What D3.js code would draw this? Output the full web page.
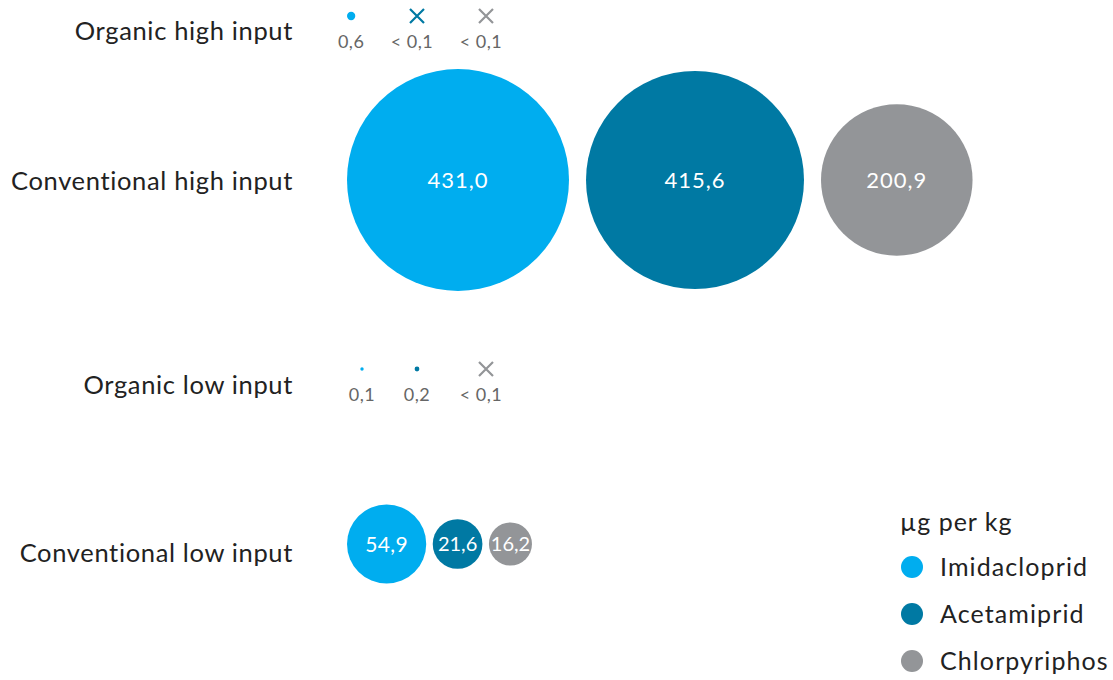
<!DOCTYPE html>
<html>
<head>
<meta charset="utf-8">
<script src="https://cdn.jsdelivr.net/npm/d3@7"></script>
<style>
  body { margin: 0; background: #fff; }
  text { font-family: Lato, "Open Sans", sans-serif; }
</style>
</head>
<body>
<div id="chart"></div>
<script>
// rows, top to bottom
var categories = ["Organic high input", "Conventional high input", "Organic low input", "Conventional low input"];
var substances = ["Imidacloprid", "Acetamiprid", "Chlorpyriphos"];
// µg per kg, null = below detection (<0,1)
var imidacloprid = [0.6, 431.0, 0.1, 54.9];
var acetamiprid = [null, 415.6, 0.2, 21.6];
var chlorpyriphos = [null, 200.9, null, 16.2];
var colors = ["#00adef", "#0079a3", "#939598"];

var width = 1113, height = 680;
var svg = d3.select("#chart").append("svg")
    .attr("width", width)
    .attr("height", height);

var series = [imidacloprid, acetamiprid, chlorpyriphos];

// bubble area ~ value
var r = d3.scaleSqrt().domain([0, 431]).range([0, 111]);
var rowY = { "Organic high input": 16, "Conventional high input": 180, "Organic low input": 369, "Conventional low input": 544 };
var labelY = { "Organic high input": 40, "Conventional high input": 190, "Organic low input": 394, "Conventional low input": 562 };

var fmt = function (v) { return v.toFixed(1).replace(".", ","); };

// row labels
svg.selectAll("text.row")
  .data(categories)
  .enter().append("text")
    .attr("class", "row")
    .attr("x", 293)
    .attr("y", function (d) { return labelY[d]; })
    .attr("text-anchor", "end")
    .style("font-size", "25.5px")
    .style("letter-spacing", "0.65px")
    .style("fill", "#222")
    .text(function (d) { return d; });

// build the marks per row
var marks = [];
categories.forEach(function (c, i) {
  var big = r(d3.max(series, function (s) { return s[i] || 0; })) > 20;
  var x = 347;
  var gap = i === 1 ? 17 : 6.5;
  series.forEach(function (s, j) {
    var v = s[i];
    var m = { row: c, k: j, v: v, rad: v == null ? 0 : r(v), big: big };
    if (big) {
      m.x = x + m.rad;
      x = m.x + m.rad + gap;
    } else {
      // small rows sit in fixed columns
      m.x = j === 0 ? (i === 0 ? 347 + m.rad : 362) : (j === 1 ? 417 : 486);
    }
    m.y = rowY[c];
    marks.push(m);
  });
});

var g = svg.selectAll("g.mark")
  .data(marks)
  .enter().append("g")
    .attr("class", "mark")
    .attr("transform", function (d) { return "translate(" + d.x + "," + d.y + ")"; });

g.filter(function (d) { return d.v != null; })
  .append("circle")
    .attr("r", function (d) { return d.rad; })
    .style("fill", function (d) { return colors[d.k]; });

// cross for values below detection
g.filter(function (d) { return d.v == null; })
  .append("path")
    .attr("d", "M-7,-7L7,7M7,-7L-7,7")
    .style("stroke", function (d) { return colors[d.k]; })
    .style("stroke-width", 2.2)
    .style("fill", "none");

// value labels inside big bubbles
g.filter(function (d) { return d.big; })
  .append("text")
    .attr("text-anchor", "middle")
    .attr("dy", "0.36em")
    .style("font-size", function (d) { return d.rad > 60 ? "22px" : (d.rad > 30 ? "21px" : "20px"); })
    .style("letter-spacing", function (d) { return d.rad > 60 ? "1px" : (d.rad > 30 ? "0.3px" : "0px"); })
    .style("fill", "#fff")
    .text(function (d) { return fmt(d.v); });

// value labels under small markers
g.filter(function (d) { return !d.big; })
  .append("text")
    .attr("text-anchor", "middle")
    .attr("x", function (d) { return d.v == null ? -5 : 0; })
    .attr("y", 32)
    .style("font-size", "18px")
    .style("letter-spacing", "0.5px")
    .style("fill", "#666")
    .text(function (d) { return d.v == null ? "< 0,1" : fmt(d.v); });

// legend
var legend = svg.append("g").attr("transform", "translate(900,0)");
legend.append("text")
    .attr("x", 0)
    .attr("y", 531)
    .style("font-size", "25px")
    .style("letter-spacing", "1px")
    .style("fill", "#222")
    .text("µg per kg");
var li = legend.selectAll("g.item")
  .data(substances)
  .enter().append("g")
    .attr("class", "item")
    .attr("transform", function (d, i) { return "translate(0," + (567 + i * 47) + ")"; });
li.append("circle")
    .attr("cx", 12)
    .attr("r", 11)
    .style("fill", function (d, i) { return colors[i]; });
li.append("text")
    .attr("x", 40)
    .attr("dy", "0.36em")
    .style("font-size", "25px")
    .style("letter-spacing", "1.1px")
    .style("fill", "#222")
    .text(function (d) { return d; });
</script>
</body>
</html>
